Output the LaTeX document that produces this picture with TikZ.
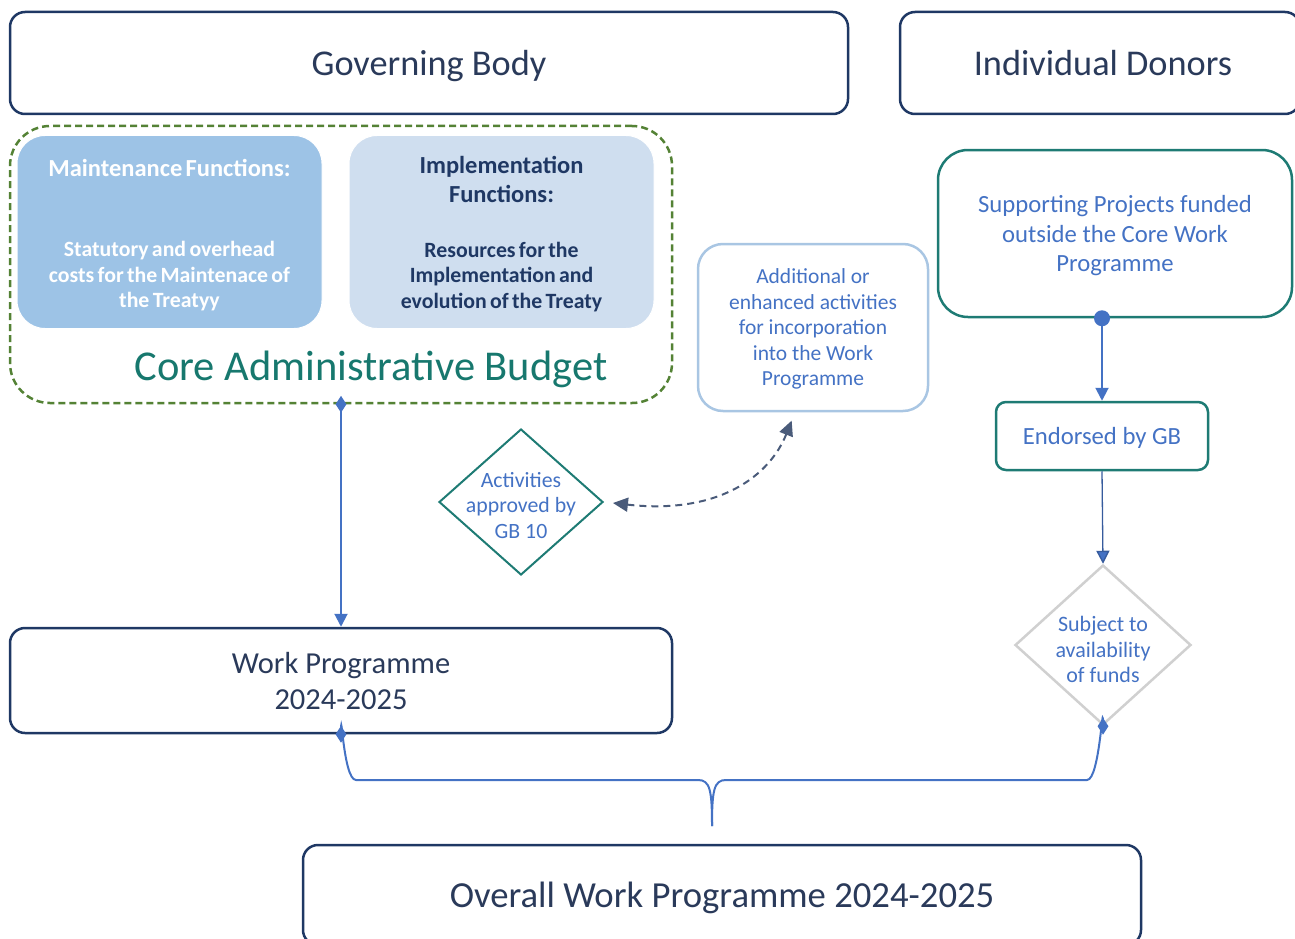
\documentclass[tikz,border=0pt]{standalone}
\usepackage{fontspec}
\setmainfont{Carlito}
\usetikzlibrary{shapes.geometric,arrows.meta}
\definecolor{navy}{HTML}{1F3864}
\definecolor{navytext}{HTML}{2A3A5A}
\definecolor{blue4}{HTML}{4472C4}
\definecolor{teal7}{HTML}{1E7B74}
\definecolor{tealtext}{HTML}{17786E}
\definecolor{green5}{HTML}{548235}
\definecolor{maintfill}{HTML}{9DC3E6}
\definecolor{implfill}{HTML}{CFDEEF}
\definecolor{addborder}{HTML}{A9C6E3}
\definecolor{graydia}{HTML}{D0D0D0}
\definecolor{slate}{HTML}{4A5B7A}
\tikzset{
  navybox/.style={draw=navy, line width=2.5pt, rounded corners=15pt, inner sep=0pt, text=navytext, text depth=0pt},
  tealbox/.style={draw=teal7, line width=2.5pt, inner sep=0pt, text=blue4, text depth=0pt},
  funcbox/.style={rounded corners=28pt, inner sep=0pt, draw=white, line width=1pt, minimum width=305pt, minimum height=193pt, text width=300pt},
  dmark/.style={diamond, fill=blue4, inner sep=0pt, minimum width=11pt, minimum height=17pt},
  conn/.style={draw=blue4, line width=2pt, -{Triangle[length=13pt,width=13pt]}},
  dtext/.style={align=center, text=blue4, font=\fontsize{21.8}{25.5}\selectfont, inner sep=0pt, text depth=0pt},
}
\begin{document}
\begin{tikzpicture}[x=1pt,y=-1pt]
\useasboundingbox (0,0) rectangle (1295,939);
\clip (0,0) rectangle (1295,939);

% top boxes
\node[navybox, minimum width=838pt, minimum height=102pt, font=\fontsize{36.3}{42}\selectfont] (gb) at (429,63) {Governing Body};
\node[navybox, minimum width=400pt, minimum height=102pt, font=\fontsize{36.3}{42}\selectfont] (donors) at (1100,63) {\hspace*{6pt}Individual Donors};

% core administrative budget
\node[draw=green5, line width=2.5pt, dash pattern=on 7pt off 4pt, rounded corners=40pt, minimum width=662pt, minimum height=277pt, inner sep=0pt] (core) at (341,264.5) {};
\node[funcbox, fill=maintfill, text=white] (maint) at (169.5,232)
  {\centering\bfseries{\fontsize{24.5}{25.5}\selectfont Maintenance Functions:\par}\vspace{55pt}{\fontsize{21.8}{25.5}\selectfont Statutory and overhead\\ costs for the Maintenace of\\ the Treatyy\par}\vspace{-6pt}};
\node[funcbox, fill=implfill, text=navy] (impl) at (501.5,232)
  {\centering\bfseries{\fontsize{24.5}{29}\selectfont Implementation\\ Functions:\par}\vspace{29.5pt}{\fontsize{21.8}{25.5}\selectfont Resources for the\\ Implementation and\\ evolution of the Treaty\par}\vspace{-4pt}};
\node[text=tealtext, font=\fontsize{42.5}{48}\selectfont, inner sep=0pt] (cab) at (371,369) {Core Administrative Budget};

% work programme
\node[navybox, minimum width=662pt, minimum height=105pt, align=center, font=\fontsize{30.5}{36}\selectfont] (wp) at (341,680.5) {Work Programme\\ 2024-2025};

% activities diamond
\node[diamond, draw=teal7, line width=2pt, minimum width=164pt, minimum height=146pt, inner sep=0pt] (act) at (521,502) {};
\node[dtext] (acttext) at (521,505) {Activities\\ approved by\\ GB 10};

% additional activities
\node[draw=addborder, line width=2.5pt, rounded corners=25pt, minimum width=230pt, minimum height=167pt, inner sep=0pt, align=center, text=blue4, text depth=0pt, font=\fontsize{21.5}{25.5}\selectfont] (add) at (813,327.5)
  {Additional or\\ enhanced activities\\ for incorporation\\ into the Work\\ Programme};

% supporting projects
\node[tealbox, rounded corners=30pt, minimum width=354pt, minimum height=167pt, align=center, font=\fontsize{24.7}{29.5}\selectfont] (sp) at (1115,233.5)
  {Supporting Projects funded\\ outside the Core Work\\ Programme};
\node[tealbox, rounded corners=10pt, minimum width=212pt, minimum height=68pt, font=\fontsize{24.7}{28}\selectfont] (eb) at (1102,436) {Endorsed by GB};
\node[diamond, draw=graydia, line width=2.5pt, minimum width=176pt, minimum height=160pt, inner sep=0pt] (sub) at (1103,645) {};
\node[dtext, font=\fontsize{22}{25.5}\selectfont] (subtext) at (1103,649.5) {Subject to\\ availability\\ of funds};

% overall
\node[navybox, minimum width=838pt, minimum height=100pt, font=\fontsize{36.7}{42}\selectfont] (overall) at (722,895) {Overall Work Programme 2024-2025};

% connectors
\draw[conn] (core.south) -- (wp.north);
\node[dmark] (m1) at (core.south) {};

\coordinate (spdot) at (sp.south -| eb.north);
\draw[conn] (spdot) -- (eb.north);
\fill[blue4] (spdot) circle (8pt);

\draw[draw=blue4!80!black, line width=1.3pt, -{Triangle[length=13pt,width=13pt,fill=blue4]}] (eb.south) -- (sub.north);

\coordinate (brtip) at (712,826);
\draw[blue4, line width=2pt] (wp.south) .. controls ([yshift=36pt]wp.south) and (343,780) .. (356,780)
  -- (698,780) .. controls (710,780) and (712,790) .. (brtip);
\draw[blue4, line width=2pt] (sub.south) .. controls ([yshift=36pt]sub.south) and (1100,780) .. (1087,780)
  -- (726,780) .. controls (714,780) and (712,790) .. (brtip);
\node[dmark] (m2) at (wp.south) {};
\node[dmark] (m3) at (sub.south) {};

\draw[slate, line width=2pt, dash pattern=on 7pt off 5pt, {Triangle[length=15pt,width=14pt]}-{Triangle[length=15pt,width=14pt]}, shorten <=9pt, shorten >=9pt]
  (act.east) .. controls (720,515) and (770,475) .. ([xshift=-18pt]add.south);
\end{tikzpicture}
\end{document}
